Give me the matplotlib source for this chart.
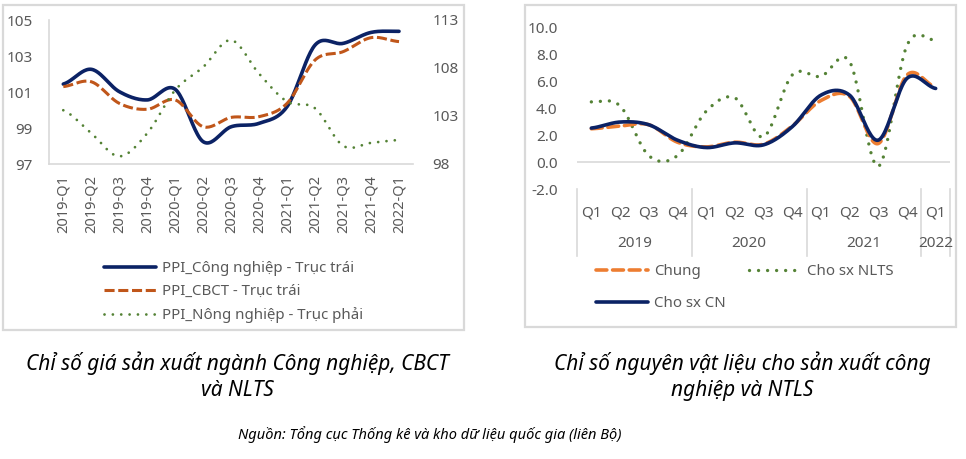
import numpy as np
import matplotlib
matplotlib.use("Agg")
import matplotlib.pyplot as plt
from matplotlib.patches import Rectangle
from matplotlib.transforms import blended_transform_factory

plt.rcParams['font.family'] = ['Noto Sans', 'DejaVu Sans']

# ---------------- Data: left chart ----------------
left_quarters = ["2019-Q1", "2019-Q2", "2019-Q3", "2019-Q4",
                 "2020-Q1", "2020-Q2", "2020-Q3", "2020-Q4",
                 "2021-Q1", "2021-Q2", "2021-Q3", "2021-Q4", "2022-Q1"]
ppi_cong_nghiep = [101.44, 102.26, 101.02, 100.56, 101.15, 98.24, 99.07,
                   99.26, 100.19, 103.61, 103.70, 104.31, 104.37]
ppi_cbct = [101.30, 101.57, 100.37, 100.04, 100.56, 99.07, 99.59,
            99.63, 100.37, 102.78, 103.24, 104.02, 103.80]
ppi_nong_nghiep = [103.6, 101.2, 98.8, 101.2, 105.7, 108.1, 110.9,
                   107.4, 104.5, 103.8, 99.9, 100.2, 100.5]
left_yticks = [97, 99, 101, 103, 105]
right_yticks = [98, 103, 108, 113]
left_labels = ["PPI_Công nghiệp - Trục trái", "PPI_CBCT - Trục trái",
               "PPI_Nông nghiệp - Trục phải"]

# ---------------- Data: right chart ----------------
q_labels = ["Q1", "Q2", "Q3", "Q4", "Q1", "Q2", "Q3", "Q4",
            "Q1", "Q2", "Q3", "Q4", "Q1"]
years = ["2019", "2020", "2021", "2022"]
year_quarter_counts = [4, 4, 4, 1]
chung = [2.5, 2.7, 2.8, 1.5, 1.15, 1.5, 1.35, 2.7, 4.6, 4.9, 1.4, 6.5, 5.6]
cho_sx_nlts = [4.5, 4.2, 0.5, 0.5, 3.8, 4.8, 1.9, 6.5, 6.4, 7.5, -0.3, 8.7, 9.1]
cho_sx_cn = [2.55, 3.0, 2.8, 1.65, 1.1, 1.45, 1.3, 2.65, 5.0, 5.0, 1.65, 6.25, 5.5]
right_chart_yticks = [-2, 0, 2, 4, 6, 8, 10]
right_labels = ["Chung", "Cho sx NLTS", "Cho sx CN"]

caption_left = "Chỉ số giá sản xuất ngành Công nghiệp, CBCT\nvà NLTS"
caption_right = "Chỉ số nguyên vật liệu cho sản xuất công\nnghiệp và NTLS"
source_text = "Nguồn: Tổng cục Thống kê và kho dữ liệu quốc gia (liên Bộ)"

NAVY = "#0b2265"
BROWN = "#c0561a"
GREEN = "#548235"
ORANGE = "#ed7d31"
GRAY_TXT = "#595959"
GRID = "#d9d9d9"

W, H = 966, 459


def smooth(vals, n=24):
    """Excel-like smoothed line (Catmull-Rom) through the category points."""
    y = np.asarray(vals, float)
    p = np.concatenate([[y[0]], y, [y[-1]]])
    xs, ys = [], []
    t = np.linspace(0, 1, n, endpoint=False)
    h00 = 2 * t**3 - 3 * t**2 + 1
    h10 = t**3 - 2 * t**2 + t
    h01 = -2 * t**3 + 3 * t**2
    h11 = t**3 - t**2
    for i in range(len(y) - 1):
        p0, p1, p2, p3 = p[i], p[i + 1], p[i + 2], p[i + 3]
        m1 = (p2 - p0) / 2
        m2 = (p3 - p1) / 2
        ys.append(h00 * p1 + h10 * m1 + h01 * p2 + h11 * m2)
        xs.append(i + t)
    xs.append([len(y) - 1])
    ys.append([y[-1]])
    return np.concatenate(xs), np.concatenate(ys)


def rect(x0, y0, x1, y1):
    return [x0 / W, 1 - y1 / H, (x1 - x0) / W, (y1 - y0) / H]


fig = plt.figure(figsize=(W / 100, H / 100), dpi=100)

# boxes
for (x0, y0, x1, y1) in [(3, 5, 464, 330), (525, 5, 956, 327)]:
    fig.patches.append(Rectangle((x0 / W, 1 - y1 / H), (x1 - x0) / W, (y1 - y0) / H,
                                 transform=fig.transFigure, fill=False,
                                 edgecolor=GRID, linewidth=1.6))

# ---------------- Left chart ----------------
axL = fig.add_axes(rect(49.3, 20, 413, 164))
axR = axL.twinx()
x = np.arange(len(left_quarters))

xs, ys = smooth(ppi_cong_nghiep)
l1, = axL.plot(xs, ys, color=NAVY, lw=2.6, solid_capstyle='round')
xs, ys = smooth(ppi_cbct)
l2, = axL.plot(xs, ys, color=BROWN, lw=2.2, linestyle=(0, (3.3, 1.2)))
xs, ys = smooth(ppi_nong_nghiep)
l3, = axR.plot(xs, ys, color=GREEN, lw=2.0, linestyle=(0, (0.01, 3.0)),
               dash_capstyle='round')

axL.set_xlim(-0.5, len(left_quarters) - 0.5)
axL.set_ylim(97, 105)
axR.set_ylim(98, 113)
axL.set_yticks(left_yticks)
axR.set_yticks(right_yticks)
axL.set_xticks(x)
axL.set_xticklabels(left_quarters, rotation=90)
for a in (axL, axR):
    a.tick_params(length=0, labelsize=11, colors=GRAY_TXT)
    for s in a.spines.values():
        s.set_visible(False)
axL.tick_params(axis='y', pad=12)
axR.tick_params(axis='y', pad=14)
axL.tick_params(axis='x', pad=8, labelsize=10.5)
axL.spines['left'].set_visible(True)
axL.spines['bottom'].set_visible(True)
axL.spines['left'].set_color(GRID)
axL.spines['bottom'].set_color(GRID)
axL.spines['left'].set_linewidth(1.2)
axL.spines['bottom'].set_linewidth(1.2)

axL.legend([l1, l2, l3], left_labels, loc='upper left',
           bbox_to_anchor=(104 / W, 1 - 261 / H), bbox_transform=fig.transFigure,
           frameon=False, borderpad=0, borderaxespad=0, handlelength=3.45,
           handletextpad=0.4, labelspacing=0.55, fontsize=10.8, labelcolor=GRAY_TXT)

# ---------------- Right chart ----------------
ax2 = fig.add_axes(rect(577, 28, 950, 189.2))
xr = np.arange(len(q_labels))
xs, ys = smooth(chung)
r1, = ax2.plot(xs, ys, color=ORANGE, lw=2.6, linestyle=(0, (3.0, 1.6)),
               dash_capstyle='round', zorder=3)
xs, ys = smooth(cho_sx_nlts)
r2, = ax2.plot(xs, ys, color=GREEN, lw=2.4, linestyle=(0, (0.01, 2.7)),
               dash_capstyle='round', zorder=2)
xs, ys = smooth(cho_sx_cn)
r3, = ax2.plot(xs, ys, color=NAVY, lw=2.6, solid_capstyle='round', zorder=4)

ax2.set_xlim(-0.5, len(q_labels) - 0.5)
ax2.set_ylim(-2, 10)
ax2.set_yticks(right_chart_yticks)
ax2.set_yticklabels([f"{v:.1f}" for v in right_chart_yticks])
ax2.set_xticks(xr)
ax2.set_xticklabels(q_labels)
ax2.tick_params(length=0, labelsize=11, colors=GRAY_TXT)
ax2.tick_params(axis='y', pad=14)
ax2.tick_params(axis='x', pad=12)
for s in ax2.spines.values():
    s.set_visible(False)
ax2.axhline(0, color=GRID, lw=1.2, zorder=1)

trans = blended_transform_factory(ax2.transData, ax2.transAxes)
bounds = np.concatenate([[0], np.cumsum(year_quarter_counts)]) - 0.5
for b in bounds:
    ax2.plot([b, b], [0, -67 / 161.2], transform=trans, color=GRID, lw=1.2,
             clip_on=False)
for i, yr in enumerate(years):
    xc = (bounds[i] + bounds[i + 1]) / 2
    ax2.annotate(yr, xy=(xc, 0), xycoords=trans, xytext=(0, -54 * 0.72),
                 textcoords='offset points', ha='center', va='center',
                 fontsize=11, color=GRAY_TXT)

ax2.legend([r1, r3, r2], [right_labels[0], right_labels[2], right_labels[1]],
           ncol=2, loc='upper left',
           bbox_to_anchor=(596 / W, 1 - 264 / H), bbox_transform=fig.transFigure,
           frameon=False, borderpad=0, borderaxespad=0, handlelength=3.45,
           handletextpad=0.45, labelspacing=1.12, columnspacing=1.5,
           fontsize=10.8, labelcolor=GRAY_TXT)

# ---------------- Captions ----------------
fig.text(237 / W, 1 - 376 / H, caption_left, ha='center', va='center',
         fontsize=15, style='italic', color='black', linespacing=1.35)
fig.text(742 / W, 1 - 376 / H, caption_right, ha='center', va='center',
         fontsize=15, style='italic', color='black', linespacing=1.35)
fig.text(430 / W, 1 - 435 / H, source_text, ha='center', va='center',
         fontsize=10.5, style='italic', color='black')

fig.savefig("out.png", dpi=100)
